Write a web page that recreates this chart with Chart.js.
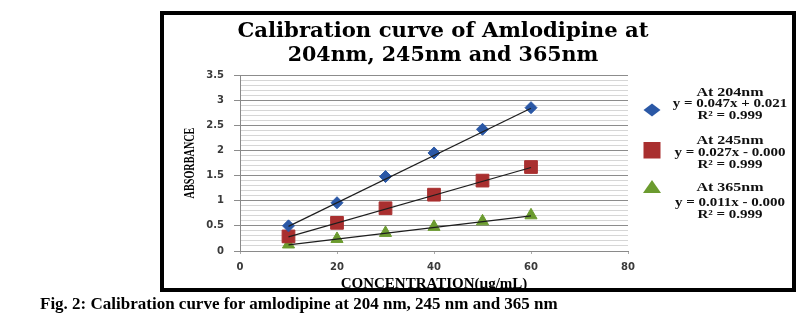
<!DOCTYPE html>
<html>
<head>
<meta charset="utf-8">
<script src="https://cdn.jsdelivr.net/npm/chart.js@4.4.0/dist/chart.umd.min.js"></script>
<style>
html, body { margin: 0; padding: 0; background: #fff; }
#wrap { position: relative; width: 810px; height: 323px; overflow: hidden; }
#calChart { position: absolute; left: 0; top: 0; }
#frame { position: absolute; left: 160px; top: 11px; width: 636px; height: 281px; border: 4px solid #000; box-sizing: border-box; pointer-events: none; }
#caption { position: absolute; left: 40px; top: 295px; font: bold 17px "Liberation Serif", "Times New Roman", serif; line-height: 18px; color: #000; white-space: nowrap; }
</style>
</head>
<body>
<div id="wrap">
  <canvas id="calChart" width="810" height="323"></canvas>
  <div id="frame"></div>
  <div id="caption">Fig. 2: Calibration curve for amlodipine at 204 nm, 245 nm and 365 nm</div>
</div>
<script>
// standards (µg/mL) and measured absorbance at each wavelength
var conc = [10, 20, 30, 40, 50, 60];
var abs204 = [0.50, 0.96, 1.48, 1.95, 2.42, 2.85];
var abs245 = [0.29, 0.56, 0.85, 1.12, 1.40, 1.67];
var abs365 = [0.13, 0.24, 0.36, 0.48, 0.59, 0.71];

// linear trendline end points
var fitX = [10, 60];
var fit204 = [0.49, 2.84];
var fit245 = [0.28, 1.66];
var fit365 = [0.12, 0.70];

var xTicks = [0, 20, 40, 60, 80];
var titleLines = ['Calibration curve of Amlodipine at', '204nm, 245nm and 365nm'];
var legendHeads = ['At 204nm', 'At 245nm', 'At 365nm'];
var legendEqs = ['y = 0.047x + 0.021', 'y = 0.027x - 0.000', 'y = 0.011x - 0.000'];
var legendR2 = ['R² = 0.999', 'R² = 0.999', 'R² = 0.999'];

var colors = ['#2b58a6', '#a92f2f', '#6b9b2f'];

function pairs(xs, ys) {
  return xs.map(function (x, i) { return { x: x, y: ys[i] }; });
}

function isMajor(v) {
  return Math.round(v * 10) % 5 === 0;
}

function trend(ys) {
  return {
    data: pairs(fitX, ys),
    showLine: true,
    borderColor: '#1e1e1e',
    borderWidth: 1.2,
    pointRadius: 0,
    fill: false
  };
}

function markers(ys, color, style, r) {
  return {
    data: pairs(conc, ys),
    backgroundColor: color,
    borderColor: color,
    borderWidth: 1,
    pointStyle: style,
    pointRadius: r,
    showLine: false
  };
}

// text squeezed or stretched along its baseline
function wideText(ctx, text, x, y, sx) {
  ctx.save();
  ctx.translate(x, y);
  ctx.scale(sx, 1);
  ctx.fillText(text, 0, 0);
  ctx.restore();
}

// title, axis titles and the equation legend
var decorations = {
  id: 'decorations',
  afterDraw: function (chart) {
    var ctx = chart.ctx;
    ctx.save();
    ctx.fillStyle = '#000';
    ctx.textAlign = 'center';
    ctx.textBaseline = 'middle';

    ctx.font = 'bold 20px "DejaVu Serif"';
    wideText(ctx, titleLines[0], 443, 32, 1.06);
    wideText(ctx, titleLines[1], 443, 56, 1.03);

    ctx.font = 'bold 15px "Liberation Serif"';
    ctx.fillText('CONCENTRATION(µg/mL)', 434, 284);

    ctx.save();
    ctx.translate(190, 163);
    ctx.rotate(-Math.PI / 2);
    ctx.scale(0.68, 1);
    ctx.font = 'bold 15px "Liberation Serif"';
    ctx.fillText('ABSORBANCE', 0, 0);
    ctx.restore();

    // legend symbols
    var mx = 652;
    ctx.fillStyle = colors[0];
    ctx.beginPath();
    ctx.moveTo(mx, 103.5); ctx.lineTo(mx + 8.5, 110); ctx.lineTo(mx, 116.5); ctx.lineTo(mx - 8.5, 110);
    ctx.closePath(); ctx.fill();
    ctx.fillStyle = colors[1];
    ctx.fillRect(mx - 8.5, 142, 17, 16.5);
    ctx.fillStyle = colors[2];
    ctx.beginPath();
    ctx.moveTo(mx, 180); ctx.lineTo(mx + 9, 193); ctx.lineTo(mx - 9, 193);
    ctx.closePath(); ctx.fill();

    // legend text
    var tx = 730;
    var rows = [[92.5, 103.5, 115.5], [140.5, 153, 165], [188, 202.5, 214.5]];
    ctx.fillStyle = '#111';
    for (var i = 0; i < 3; i++) {
      ctx.font = 'bold 12.5px "Liberation Serif"';
      wideText(ctx, legendHeads[i], tx, rows[i][0], 1.28);
      ctx.font = 'bold 12px "Liberation Serif"';
      wideText(ctx, legendEqs[i], tx, rows[i][1], 1.25);
      wideText(ctx, legendR2[i], tx, rows[i][2], 1.25);
    }
    ctx.restore();
  }
};

var tickFont = { family: 'DejaVu Sans', weight: 'bold', size: 10 };

new Chart(document.getElementById('calChart'), {
  type: 'scatter',
  data: {
    datasets: [
      trend(fit204),
      trend(fit245),
      trend(fit365),
      markers(abs204, colors[0], 'rectRot', 6),
      markers(abs245, colors[1], 'rect', 9),
      markers(abs365, colors[2], 'triangle', 7)
    ]
  },
  options: {
    responsive: false,
    animation: false,
    layout: { padding: { left: 164, right: 182, top: 75, bottom: 34 } },
    plugins: {
      legend: { display: false },
      tooltip: { enabled: false },
      title: { display: false }
    },
    scales: {
      x: {
        type: 'linear',
        min: 0,
        max: 80,
        afterBuildTicks: function (s) { s.ticks = xTicks.map(function (v) { return { value: v }; }); },
        afterFit: function (s) { s.height = 38; },
        grid: { drawOnChartArea: false, tickLength: 3, color: '#aaaaaa' },
        border: { color: '#8a8a8a' },
        ticks: { padding: 7, font: tickFont, color: '#3a3a3a', maxRotation: 0 }
      },
      y: {
        min: 0,
        max: 3.5,
        afterFit: function (s) { s.width = 76; },
        grid: {
          tickLength: 6,
          color: function (c) { return isMajor(c.tick.value) ? '#8c8c8c' : '#d6d6d6'; },
          tickColor: function (c) { return isMajor(c.tick.value) ? '#8c8c8c' : 'rgba(0,0,0,0)'; }
        },
        border: { color: '#8a8a8a' },
        ticks: {
          stepSize: 0.1,
          autoSkip: false,
          padding: 10,
          font: tickFont,
          color: '#3a3a3a',
          callback: function (v) { return isMajor(v) ? String(Math.round(v * 10) / 10) : ''; }
        }
      }
    }
  },
  plugins: [decorations]
});
</script>
</body>
</html>
